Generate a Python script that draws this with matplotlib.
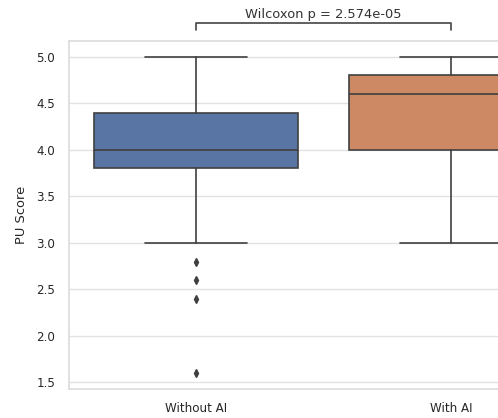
import matplotlib
matplotlib.use("Agg")
import matplotlib.pyplot as plt
import seaborn as sns

# box summary
groups = ["Without AI", "With AI"]
q1 = [3.8, 4.0]
medians = [4.0, 4.6]
q3 = [4.4, 4.8]
whisker_lo = [3.0, 3.0]
whisker_hi = [5.0, 5.0]
outliers = [[2.8, 2.6, 2.4, 1.6], []]
p_text = "Wilcoxon p = 2.574e-05"

sns.set_theme(style="whitegrid")
colors = ["#5975A4", "#CC8963"]
line_gray = "#3f3f3f"

fig = plt.figure(figsize=(4.98, 4.18), dpi=100)
ax = fig.add_axes([0.1376, 0.0694, 1.024, 0.8325])

stats = []
for i, g in enumerate(groups):
    stats.append(dict(label=g, q1=q1[i], med=medians[i], q3=q3[i],
                      whislo=whisker_lo[i], whishi=whisker_hi[i], fliers=outliers[i]))

bp = ax.bxp(stats, positions=range(len(groups)), widths=0.8, patch_artist=True,
            boxprops=dict(edgecolor=line_gray, linewidth=1.2),
            medianprops=dict(color=line_gray, linewidth=1.2),
            whiskerprops=dict(color=line_gray, linewidth=1.2),
            capprops=dict(color=line_gray, linewidth=1.2),
            flierprops=dict(marker="d", markerfacecolor=line_gray, markeredgecolor=line_gray,
                            markersize=4, linestyle="none"),
            capwidths=0.4)
for patch, c in zip(bp["boxes"], colors):
    patch.set_facecolor(c)

ax.set_xlim(-0.5, 1.5)
ax.set_ylim(1.43, 5.17)
ax.set_xticks(range(len(groups)))
ax.set_xticklabels(groups, fontsize=8.6)
ax.tick_params(axis="y", labelsize=8.6)
ax.set_ylabel("PU Score", fontsize=9.4, labelpad=6)
ax.grid(axis="x", visible=False)
ax.grid(axis="y", color="#e2e2e2", linewidth=1)
for s in ax.spines.values():
    s.set_color("#dcdcdc")
    s.set_linewidth(1.2)

# significance bracket
y0, y1 = 5.29, 5.365
ax.plot([0, 0, 1, 1], [y0, y1, y1, y0], color="#444444", lw=1.2, clip_on=False)
ax.text(0.5, 5.38, p_text, ha="center", va="bottom", fontsize=9.4, color="#333333", clip_on=False)

fig.savefig("out.png", dpi=100)
